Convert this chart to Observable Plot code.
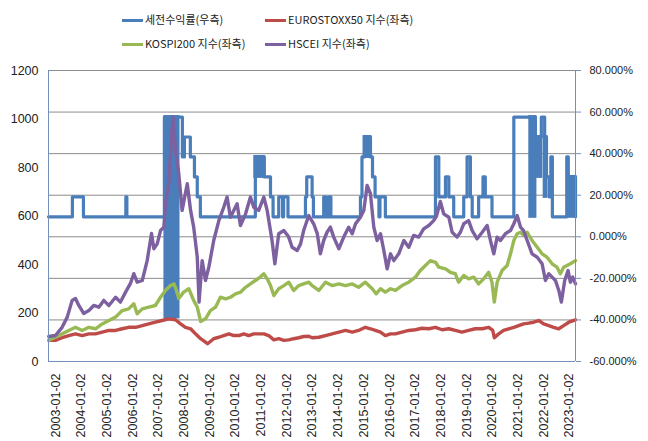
<!DOCTYPE html>
<html><head><meta charset="utf-8">
<script src="https://cdn.jsdelivr.net/npm/d3@7"></script>
<script src="https://cdn.jsdelivr.net/npm/@observablehq/plot@0.6"></script>
<style>
body{margin:0;background:#fff;}
#wrap{position:relative;width:648px;height:441px;background:#fff;}
#legend{position:relative;width:648px;height:58px;font-family:"Noto Sans CJK KR","Liberation Sans",sans-serif;}
.li{position:absolute;font-size:11px;color:#222;white-space:nowrap;line-height:14px;}
.sw{position:absolute;height:3px;width:21px;}
#chart svg{display:block;}
</style></head><body>
<div id="wrap"><div id="legend"></div><div id="chart"></div></div>
<script>
// ---- data ----
const seriesNames = ["세전수익률(우측)", "EUROSTOXX50 지수(좌측)", "KOSPI200 지수(좌측)", "HSCEI 지수(좌측)"];
const seriesColors = ["#4a7ebb", "#be4b48", "#98b954", "#7d60a0"];

const leftTicks = [0, 200, 400, 600, 800, 1000, 1200];
const leftTickLabels = ["0", "200", "400", "600", "800", "1000", "1200"];
const rightTicks = [-60, -40, -20, 0, 20, 40, 60, 80];
const rightTickLabels = ["-60.000%", "-40.000%", "-20.000%", "0.000%", "20.000%", "40.000%", "60.000%", "80.000%"];
const tickYears = [2003, 2004, 2005, 2006, 2007, 2008, 2009, 2010, 2011, 2012, 2013, 2014, 2015, 2016, 2017, 2018, 2019, 2020, 2021, 2022, 2023];
const tickLabels = ["2003-01-02", "2004-01-02", "2005-01-02", "2006-01-02", "2007-01-02", "2008-01-02", "2009-01-02", "2010-01-02", "2011-01-02", "2012-01-02", "2013-01-02", "2014-01-02", "2015-01-02", "2016-01-02", "2017-01-02", "2018-01-02", "2019-01-02", "2020-01-02", "2021-01-02", "2022-01-02", "2023-01-02"];
const dateStart = 2003.0, dateEnd = 2023.51;

// [decimal year, index level]
const hscei = [[2003.01,103],[2003.27,107],[2003.53,141],[2003.73,183],[2003.92,252],[2004.05,260],[2004.18,231],[2004.37,198],[2004.57,210],[2004.76,231],[2004.96,224],[2005.15,252],[2005.35,231],[2005.61,265],[2005.80,245],[2006.00,286],[2006.19,322],[2006.32,362],[2006.45,327],[2006.65,334],[2006.84,416],[2007.01,528],[2007.10,465],[2007.23,485],[2007.36,540],[2007.49,554],[2007.55,651],[2007.68,733],[2007.84,1010],[2007.94,870],[2008.07,775],[2008.20,623],[2008.40,733],[2008.53,623],[2008.65,554],[2008.79,430],[2008.86,245],[2008.98,416],[2009.11,334],[2009.24,389],[2009.43,499],[2009.63,581],[2009.82,636],[2009.95,678],[2010.08,595],[2010.21,623],[2010.34,650],[2010.47,561],[2010.67,609],[2010.86,678],[2010.99,636],[2011.18,623],[2011.38,678],[2011.51,623],[2011.70,499],[2011.81,403],[2011.96,527],[2012.16,540],[2012.35,513],[2012.48,471],[2012.68,458],[2012.81,485],[2012.93,540],[2013.13,602],[2013.32,568],[2013.46,527],[2013.58,444],[2013.71,499],[2013.84,533],[2013.97,554],[2014.10,513],[2014.30,465],[2014.49,513],[2014.68,554],[2014.82,527],[2014.95,568],[2015.14,595],[2015.27,623],[2015.40,726],[2015.53,692],[2015.66,554],[2015.79,499],[2015.92,527],[2016.05,458],[2016.18,382],[2016.31,444],[2016.44,416],[2016.63,444],[2016.83,499],[2017.02,471],[2017.21,520],[2017.41,513],[2017.60,547],[2017.80,561],[2017.99,581],[2018.10,600],[2018.25,660],[2018.38,609],[2018.58,595],[2018.71,533],[2018.90,513],[2019.03,533],[2019.16,568],[2019.35,581],[2019.49,540],[2019.68,506],[2019.88,533],[2020.07,561],[2020.20,499],[2020.33,444],[2020.46,513],[2020.59,499],[2020.78,527],[2020.98,540],[2021.11,568],[2021.24,602],[2021.37,554],[2021.49,540],[2021.63,499],[2021.82,444],[2022.02,430],[2022.21,403],[2022.34,334],[2022.47,362],[2022.60,348],[2022.73,334],[2022.86,293],[2022.96,245],[2023.09,334],[2023.22,375],[2023.31,327],[2023.40,348],[2023.51,320]];

const kospi200 = [[2003.01,88],[2003.27,100],[2003.53,114],[2003.79,128],[2004.05,141],[2004.31,128],[2004.57,141],[2004.83,135],[2005.09,155],[2005.35,169],[2005.61,183],[2005.87,210],[2006.12,217],[2006.32,238],[2006.45,197],[2006.65,217],[2006.90,224],[2007.16,231],[2007.36,265],[2007.55,293],[2007.75,313],[2007.88,320],[2007.94,306],[2008.07,260],[2008.26,286],[2008.46,300],[2008.65,252],[2008.79,224],[2008.92,165],[2009.11,176],[2009.30,210],[2009.50,224],[2009.69,265],[2009.89,258],[2010.08,265],[2010.28,279],[2010.47,286],[2010.67,306],[2010.86,320],[2011.05,334],[2011.24,348],[2011.38,362],[2011.51,341],[2011.64,313],[2011.77,272],[2011.96,300],[2012.16,313],[2012.35,327],[2012.54,293],[2012.74,313],[2012.93,320],[2013.13,327],[2013.26,313],[2013.52,293],[2013.78,327],[2014.04,313],[2014.30,320],[2014.56,313],[2014.82,320],[2015.07,306],[2015.33,327],[2015.60,300],[2015.75,279],[2015.92,300],[2016.11,286],[2016.31,300],[2016.50,293],[2016.76,313],[2017.02,327],[2017.28,348],[2017.47,375],[2017.67,396],[2017.86,416],[2018.06,409],[2018.19,389],[2018.45,382],[2018.64,368],[2018.83,362],[2018.96,327],[2019.16,355],[2019.35,341],[2019.55,348],[2019.74,320],[2019.94,341],[2020.13,368],[2020.26,327],[2020.35,245],[2020.46,327],[2020.65,375],[2020.85,396],[2020.98,444],[2021.11,499],[2021.24,527],[2021.37,533],[2021.49,520],[2021.63,533],[2021.82,499],[2022.02,471],[2022.21,444],[2022.40,430],[2022.60,403],[2022.79,389],[2022.92,362],[2023.05,389],[2023.18,396],[2023.31,403],[2023.51,416]];

const eurostoxx50 = [[2003.01,87],[2003.27,87],[2003.53,98],[2003.79,107],[2004.05,114],[2004.31,107],[2004.57,114],[2004.83,114],[2005.09,121],[2005.35,128],[2005.61,128],[2005.87,135],[2006.12,141],[2006.39,141],[2006.65,148],[2006.90,155],[2007.16,162],[2007.42,169],[2007.68,176],[2007.94,172],[2008.14,155],[2008.33,141],[2008.53,135],[2008.72,114],[2008.92,94],[2009.11,80],[2009.19,73],[2009.43,94],[2009.63,100],[2009.82,107],[2010.02,114],[2010.21,107],[2010.41,107],[2010.60,114],[2010.79,107],[2010.99,114],[2011.18,114],[2011.38,114],[2011.57,107],[2011.77,89],[2011.96,94],[2012.16,87],[2012.35,89],[2012.54,94],[2012.74,98],[2012.93,103],[2013.13,104],[2013.26,98],[2013.52,100],[2013.78,107],[2014.04,114],[2014.30,121],[2014.56,128],[2014.82,121],[2015.07,128],[2015.33,141],[2015.53,135],[2015.72,128],[2015.92,121],[2016.11,107],[2016.31,114],[2016.50,114],[2016.76,121],[2017.02,128],[2017.28,131],[2017.54,137],[2017.80,135],[2018.06,141],[2018.32,131],[2018.58,135],[2018.83,128],[2019.09,121],[2019.35,128],[2019.61,135],[2019.88,135],[2020.13,141],[2020.29,128],[2020.35,98],[2020.52,114],[2020.71,128],[2020.91,135],[2021.11,141],[2021.30,148],[2021.49,155],[2021.69,158],[2021.88,162],[2022.08,169],[2022.27,155],[2022.47,148],[2022.66,141],[2022.86,135],[2023.05,148],[2023.25,162],[2023.51,172]];

// pre-tax return (%), step changes [decimal year, %]
const returnSteps = [[2003.00,9.6],[2003.93,19.2],[2004.36,9.6],[2006.01,19.2],[2006.05,9.6],[2007.51,57.6],[2008.21,38.4],[2008.29,48],[2008.52,38.4],[2008.68,28.8],[2008.79,19.2],[2008.91,9.6],[2011.05,38.4],[2011.40,28.8],[2011.64,19.2],[2011.74,9.6],[2011.96,19.2],[2012.11,9.6],[2012.15,19.2],[2012.32,9.6],[2013.00,19.2],[2013.05,28.8],[2013.26,19.2],[2013.31,9.6],[2013.71,19.2],[2013.80,9.6],[2013.91,19.2],[2013.99,9.6],[2015.14,19.2],[2015.20,38.4],[2015.30,48],[2015.53,38.4],[2015.61,28.8],[2015.71,19.2],[2015.86,9.6],[2015.90,19.2],[2016.11,9.6],[2018.06,38.4],[2018.19,19.2],[2018.45,28.8],[2018.58,19.2],[2018.77,9.6],[2019.16,19.2],[2019.29,38.4],[2019.42,19.2],[2019.49,9.6],[2019.74,19.2],[2019.91,28.8],[2020.00,19.2],[2020.26,9.6],[2021.11,57.6],[2021.95,48],[2022.18,57.6],[2022.31,48],[2022.38,28.8],[2022.49,19.2],[2022.55,38.4],[2022.61,9.6],[2023.17,38.4],[2023.23,28.8],[2023.51,9.6]];
// periods where the return flips back and forth daily: [from, to, high %, low %]
const returnBands = [[2007.55,2008.06,57.6,-38.8],[2011.05,2011.38,38.4,28.8],[2015.30,2015.53,48,38.4],[2021.75,2021.95,57.6,9.6],[2022.03,2022.18,48,28.8],[2022.31,2022.38,48,19.2],[2023.23,2023.51,28.8,9.6]];

// ---- chart ----
const leftDomain = [0, 1200], rightDomain = [-60, 80];
const toLeft = p => (p - rightDomain[0]) / (rightDomain[1] - rightDomain[0]) * (leftDomain[1] - leftDomain[0]) + leftDomain[0];
const axisColor = "#7390bd";
const gridColor = "#8c8c8c";

// legend
const legend = document.getElementById("legend");
const legendPos = [[122, 20], [265, 20], [122, 44], [265, 44]];
seriesNames.forEach((name, i) => {
  const [lx, ly] = legendPos[i];
  const sw = document.createElement("div");
  sw.className = "sw"; sw.style.left = lx + "px"; sw.style.top = (ly - 1.5) + "px"; sw.style.background = seriesColors[i];
  legend.appendChild(sw);
  const t = document.createElement("div");
  t.className = "li"; t.style.left = (lx + 23) + "px"; t.style.top = (ly - 8) + "px"; t.textContent = name;
  legend.appendChild(t);
});

const chart = Plot.plot({
  width: 648, height: 383,
  marginTop: 12, marginBottom: 80, marginLeft: 48, marginRight: 73,
  x: {domain: [dateStart, dateEnd]},
  y: {domain: leftDomain},
  style: {fontFamily: "'Liberation Sans', Arial, sans-serif", background: "#fff", color: "#222"},
  marks: [
    Plot.ruleY(rightTicks.slice(1), {y: d => toLeft(d), stroke: gridColor, strokeWidth: 1}),
    Plot.rect(returnBands, {x1: d => d[0], x2: d => d[1], y1: d => toLeft(d[3]), y2: d => toLeft(d[2]), fill: seriesColors[0], inset: -1.5}),
    Plot.line(returnSteps, {x: d => d[0], y: d => toLeft(d[1]), curve: "step-after", stroke: seriesColors[0], strokeWidth: 3.2}),
    Plot.line(eurostoxx50, {x: d => d[0], y: d => d[1], stroke: seriesColors[1], strokeWidth: 3.4}),
    Plot.line(kospi200, {x: d => d[0], y: d => d[1], stroke: seriesColors[2], strokeWidth: 3.4}),
    Plot.line(hscei, {x: d => d[0], y: d => d[1], stroke: seriesColors[3], strokeWidth: 3.4}),
    Plot.ruleX([dateStart], {stroke: axisColor}),
    Plot.ruleX([dateEnd], {stroke: axisColor}),
    Plot.ruleY([leftDomain[0]], {stroke: axisColor}),
    Plot.axisY({anchor: "left", ticks: leftTicks, tickSize: 0, tickPadding: 10, fontSize: 12.5, fill: "#222",
      tickFormat: d => leftTickLabels[leftTicks.indexOf(d)]}),
    Plot.axisY({anchor: "right", ticks: rightTicks.map(toLeft), tickSize: 5, tickPadding: 9, fontSize: 11, fill: "#222", stroke: axisColor,
      tickFormat: d => rightTickLabels[rightTicks.findIndex(r => Math.abs(toLeft(r) - d) < 1e-6)]}),
    Plot.axisX({ticks: tickYears, tickSize: 0, tickPadding: 12, tickRotate: -90, dx: 7, fontSize: 12.5, fill: "#222",
      tickFormat: d => tickLabels[tickYears.indexOf(d)]})
  ]
});
document.getElementById("chart").appendChild(chart);
</script>
</body></html>
